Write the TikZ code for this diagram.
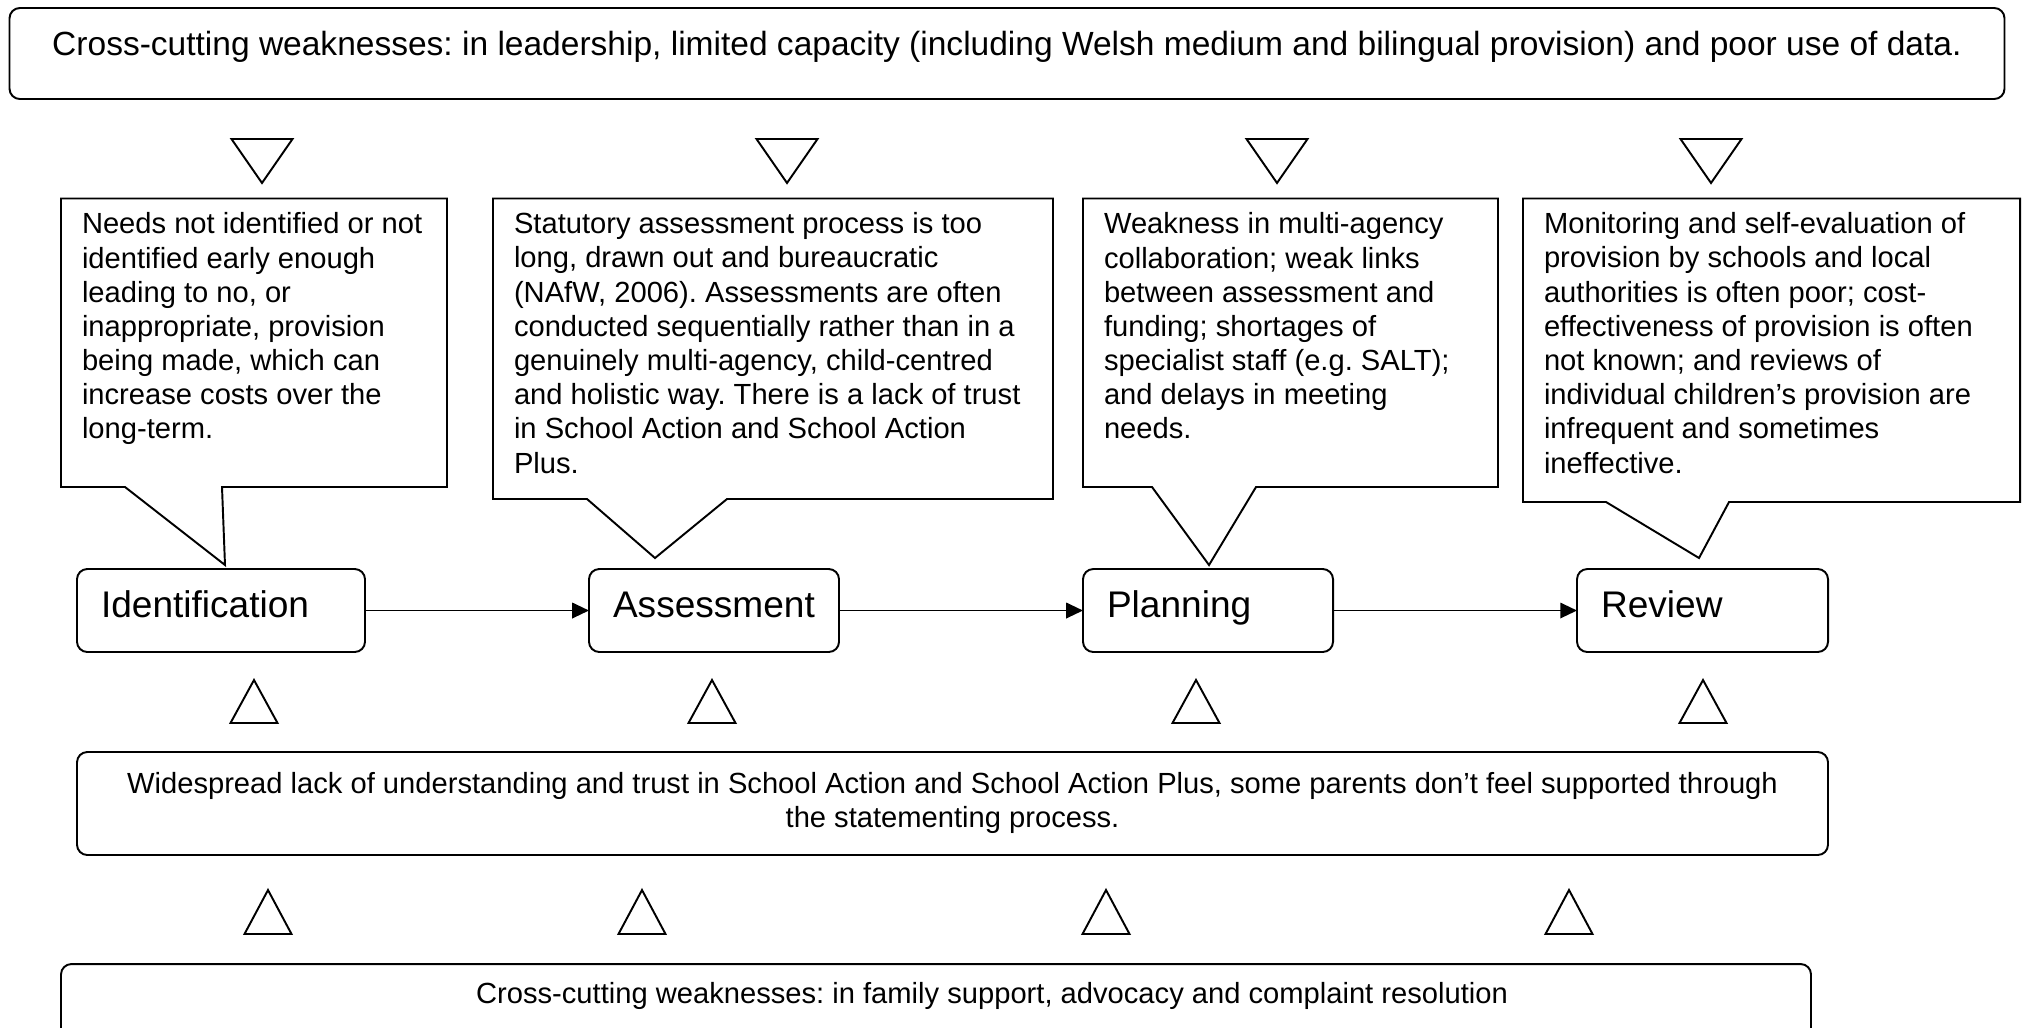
\documentclass[tikz,border=0pt]{standalone}
\usepackage{fontspec}
\setmainfont{Liberation Sans}
\usetikzlibrary{arrows.meta}
\frenchspacing
\tikzset{
  every node/.style={inner sep=0pt, outer sep=0pt},
  lw/.style={line width=0.75pt},
  body/.style={font=\fontsize{11.3pt}{13.26pt}\selectfont},
  rbox/.style={draw, lw, rounded corners=4pt, rectangle},
  procbox/.style={rbox, minimum height=32.18pt, text height=11.63pt, text depth=6.59pt,
    inner xsep=9.31pt, align=left, font=\fontsize{14.37pt}{17pt}\selectfont},
  callouttext/.style={body, anchor=north west, align=left},
  calloutshape/.style={draw, lw, line join=miter},
  tri/.style={draw, lw, line join=miter},
  arr/.style={lw, -{Triangle[length=6.5pt, width=6pt]}},
}
\newcommand{\fl}{\rule{0pt}{10pt}}
\begin{document}
\begin{tikzpicture}[x=0.38775pt, y=-0.38775pt]
\useasboundingbox (0,0) rectangle (2022,1027);
\clip (0,0) rectangle (2022,1027);

% top box
\node[rbox, minimum width=773.57pt, minimum height=35.29pt, text height=11.63pt, text depth=10.47pt,
  font=\fontsize{13pt}{15pt}\selectfont] (top) at (1007,53.5)
  {Cross-cutting weaknesses: in leadership, limited capacity (including Welsh medium and bilingual provision) and poor use of data.};

% down triangles
\foreach \x in {262,787,1277,1711}
  \draw[tri] ({\x-30.5},139) -- ({\x+30.5},139) -- (\x,183) -- cycle;

% callouts
\draw[calloutshape] (61,198.5) -- (447,198.5) -- (447,487) -- (222,487) -- (225,565) -- (125,487) -- (61,487) -- cycle;
\draw[calloutshape] (493,198.5) -- (1053,198.5) -- (1053,499) -- (727,499) -- (655,558) -- (587,499) -- (493,499) -- cycle;
\draw[calloutshape] (1083,198.5) -- (1498,198.5) -- (1498,487) -- (1256,487) -- (1209,565) -- (1152,487) -- (1083,487) -- cycle;
\draw[calloutshape] (1523,198.5) -- (2020,198.5) -- (2020,502) -- (1729,502) -- (1699,558) -- (1606,502) -- (1523,502) -- cycle;

\node[callouttext] (c1) at (82,208) {\fl Needs not identified or not\\identified early enough\\leading to no, or\\inappropriate, provision\\being made, which can\\increase costs over the\\long-term.};
\node[callouttext] (c2) at (514,208) {\fl Statutory assessment process is too\\long, drawn out and bureaucratic\\(NAfW, 2006). Assessments are often\\conducted sequentially rather than in a\\genuinely multi-agency, child-centred\\and holistic way. There is a lack of trust\\in School Action and School Action\\Plus.};
\node[callouttext] (c3) at (1104,208) {\fl Weakness in multi-agency\\collaboration; weak links\\between assessment and\\funding; shortages of\\specialist staff (e.g. SALT);\\and delays in meeting\\needs.};
\node[callouttext] (c4) at (1544,208) {\fl Monitoring and self-evaluation of\\provision by schools and local\\authorities is often poor; cost-\\effectiveness of provision is often\\not known; and reviews of\\individual children’s provision are\\infrequent and sometimes\\ineffective.};

% process boxes
\node[procbox, minimum width=111.67pt, text width=93.06pt] (ident) at (221,610.5) {Identification};
\node[procbox, minimum width=96.94pt, text width=78.33pt] (assess) at (714,610.5) {Assessment};
\node[procbox, minimum width=96.94pt, text width=78.33pt] (plan) at (1208,610.5) {Planning};
\node[procbox, minimum width=97.33pt, text width=78.71pt] (review) at (1702.5,610.5) {Review};

\draw[arr] (ident.east) -- (assess.west);
\draw[arr] (assess.east) -- (plan.west);
\draw[arr] (plan.east) -- (review.west);

% up triangles row 2
\foreach \x in {254,712,1196,1703}
  \draw[tri] (\x,680) -- ({\x+23.5},723) -- ({\x-23.5},723) -- cycle;

% middle box
\node[rbox, minimum width=678.95pt, minimum height=39.94pt] (mid) at (952.5,803.5) {};
\node[body, anchor=north, align=center] (midtext) at (952.5,767.5)
  {\fl Widespread lack of understanding and trust in School Action and School Action Plus, some parents don’t feel supported through\\the statementing process.};

% up triangles row 3
\foreach \x in {268,642,1106,1569}
  \draw[tri] (\x,890) -- ({\x+23.5},934) -- ({\x-23.5},934) -- cycle;

% bottom box
\node[rbox, minimum width=678.56pt, minimum height=52.7pt] (bot) at (936,1032) {};
\node[body, anchor=base] (bottext) at (992,1003)
  {Cross-cutting weaknesses: in family support, advocacy and complaint resolution};
\end{tikzpicture}
\end{document}
